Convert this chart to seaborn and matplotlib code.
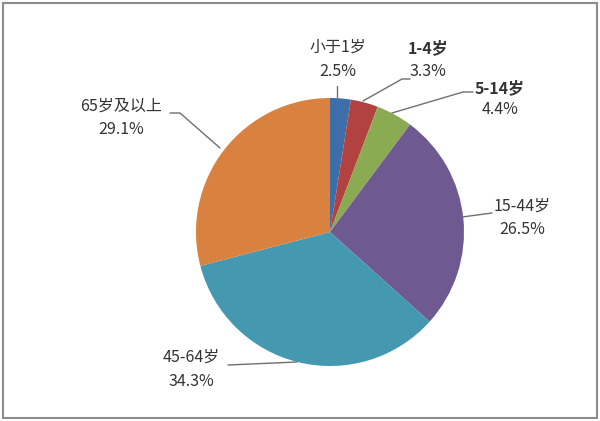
import numpy as np
import matplotlib
matplotlib.use("Agg")
import matplotlib.pyplot as plt
import seaborn as sns
from matplotlib.patches import Rectangle

# data
groups = ['小于1岁', '1-4岁', '5-14岁', '15-44岁', '45-64岁', '65岁及以上']
shares = [2.5, 3.3, 4.4, 26.5, 34.3, 29.1]
colors = ['#3e6ea9', '#b2423f', '#8bab52', '#6f5991', '#4498b0', '#d9823f']
bold_name = [False, True, True, False, False, False]

sns.set_style('white')
plt.rcParams['font.family'] = ['Noto Sans CJK SC', 'DejaVu Sans']

fig = plt.figure(figsize=(6, 4.21), dpi=100)
ax = fig.add_axes([0, 0, 1, 1])

# pie in pixel space; y axis points down so go counterclockwise to look clockwise
cx, cy, r = 330, 232, 134
wedges, _ = ax.pie(shares, colors=sns.color_palette(colors), startangle=-90,
                   counterclock=True, center=(cx, cy), radius=r,
                   wedgeprops=dict(linewidth=0.4, edgecolor='none'), frame=True)
ax.set_xlim(0, 600)
ax.set_ylim(421, 0)
ax.set_aspect('equal')
ax.axis('off')

# label positions (centre of name line / centre of value line) and leader lines
label_pos = [(338, 47, 72), (428, 48, 72), (500, 88, 110),
             (522, 206, 230), (191, 357, 382), (121, 106, 130)]
leaders = [
    [(337, 99), (337, 86)],
    [(363, 101), (402, 79), (410, 79)],
    [(392, 113), (463, 92), (473, 92)],
    [(462, 217), (492, 213)],
    [(297, 362), (228, 365)],
    [(220, 148), (180, 113), (170, 113)],
]

txt = '#333333'
for g, s, b, (tx, ty1, ty2), pts in zip(groups, shares, bold_name, label_pos, leaders):
    ax.text(tx, ty1, g, ha='center', va='center', fontsize=11.5, color=txt,
            fontweight='bold' if b else 'normal')
    ax.text(tx, ty2, f'{s:.1f}%', ha='center', va='center', fontsize=11.5, color=txt)
    xs, ys = zip(*pts)
    ax.plot(xs, ys, color='#6f6f6f', lw=1)

# outer frame
ax.add_patch(Rectangle((3, 3), 594, 415, fill=False, edgecolor='#8c8c8c', lw=1.5))

fig.savefig('out.png', dpi=100)
